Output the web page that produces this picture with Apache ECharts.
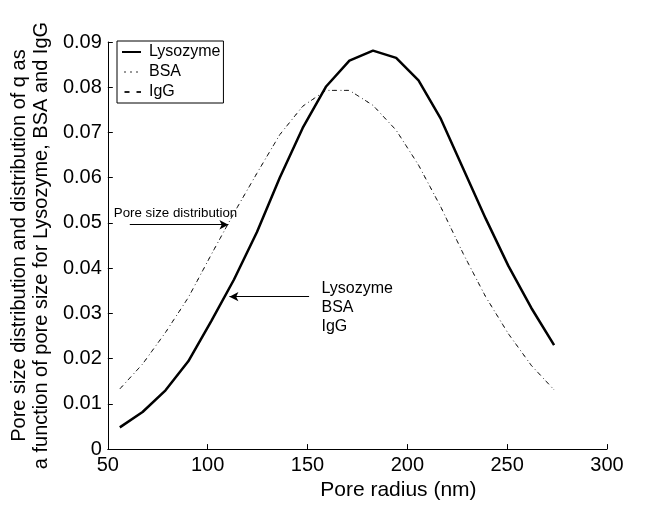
<!DOCTYPE html>
<html>
<head>
<meta charset="utf-8">
<script src="https://cdn.jsdelivr.net/npm/echarts@6/dist/echarts.min.js"></script>
<style>
html,body{margin:0;padding:0;background:#fff;}
#chart{width:650px;height:506px;}
</style>
</head>
<body>
<div id="chart"></div>
<script>
// Pore radius (nm)
const poreRadius = [56.0, 67.4, 78.9, 90.3, 101.8, 113.2, 124.7, 136.1, 147.6, 159.2,
                    171.0, 182.8, 194.4, 205.6, 216.8, 228.0, 239.2, 250.6, 262.1, 273.5];
// Lysozyme distribution of q (solid)
const lysozyme = [0.0048, 0.0082, 0.0130, 0.0194, 0.0283, 0.0375, 0.0480, 0.0600, 0.0710, 0.0801,
                  0.0859, 0.0881, 0.0865, 0.0815, 0.0730, 0.0620, 0.0510, 0.0405, 0.0312, 0.0230];
// Pore size distribution (BSA and IgG curves coincide with it)
const bsa = [0.0133, 0.0188, 0.0258, 0.0335, 0.0430, 0.0522, 0.0610, 0.0695, 0.0758, 0.0793,
             0.0793, 0.0760, 0.0705, 0.0628, 0.0535, 0.0432, 0.0337, 0.0255, 0.0185, 0.0131];
const igg = [0.0133, 0.0188, 0.0258, 0.0335, 0.0430, 0.0522, 0.0610, 0.0695, 0.0758, 0.0793,
             0.0793, 0.0760, 0.0705, 0.0628, 0.0535, 0.0432, 0.0337, 0.0255, 0.0185, 0.0131];
const seriesNames = ['Lysozyme', 'BSA', 'IgG'];
const xTicks = {min: 50, max: 300, interval: 50};
const yTicks = {min: 0, max: 0.09, interval: 0.01};
const xTitle = 'Pore radius (nm)';
const yTitle = 'Pore size distribution and distribution of q as\na function of pore size for Lysozyme, BSA and IgG';
// annotations (data coordinates)
const noteDistText = 'Pore size distribution';
const noteDistArrow = [[61, 0.0496], [110.4, 0.0496]];
const noteDistTextPos = [53, 0.0527];
const noteQText = 'Lysozyme\nBSA\nIgG';
const noteQArrow = [[150.8, 0.0337], [110.9, 0.0337]];
const noteQTextPos = [157, 0.0370];

const FONT = '"Liberation Sans", Arial, Helvetica, sans-serif';
const zip = (xs, ys) => xs.map((x, i) => [x, ys[i]]);

const chart = echarts.init(document.getElementById('chart'), null, {renderer: 'canvas'});
const arrowLine = (pts) => ({
  silent: true, symbol: ['none', 'arrow'], symbolSize: [7, 9],
  lineStyle: {color: '#000', width: 1, type: 'solid'},
  label: {show: false},
  data: [[{coord: pts[0]}, {coord: pts[1]}]]
});
chart.setOption({
  animation: false,
  backgroundColor: '#fff',
  textStyle: {fontFamily: FONT, color: '#000'},
  grid: {left: 106, right: 43, top: 42, bottom: 50},
  legend: {
    orient: 'vertical', left: 117, top: 41,
    data: seriesNames,
    backgroundColor: '#fff', borderColor: '#000', borderWidth: 1, borderRadius: 0,
    padding: [3, 3, 3, 4], itemGap: 4, itemWidth: 19, itemHeight: 16,
    itemStyle: {opacity: 0},
    textStyle: {fontFamily: FONT, fontSize: 16, color: '#000', padding: [0, 0, 0, 3]}
  },
  xAxis: {
    type: 'value', min: xTicks.min, max: xTicks.max, interval: xTicks.interval,
    name: xTitle, nameLocation: 'middle', nameGap: 28,
    nameTextStyle: {fontFamily: FONT, fontSize: 21, color: '#000', padding: [0, 0, 0, 82]},
    axisLine: {show: true, onZero: false, lineStyle: {color: '#000', width: 1}},
    axisTick: {show: true, inside: true, length: 5, lineStyle: {color: '#000'}},
    axisLabel: {fontFamily: FONT, fontSize: 20, color: '#000', margin: 6},
    splitLine: {show: false}
  },
  yAxis: {
    type: 'value', min: yTicks.min, max: yTicks.max, interval: yTicks.interval,
    name: yTitle, nameLocation: 'middle', nameGap: 52, nameRotate: 90,
    nameTextStyle: {fontFamily: FONT, fontSize: 20, color: '#000', lineHeight: 22},
    axisLine: {show: true, lineStyle: {color: '#000', width: 1}},
    axisTick: {show: true, inside: true, length: 5, lineStyle: {color: '#000'}},
    axisLabel: {fontFamily: FONT, fontSize: 20, color: '#000', margin: 6,
      formatter: v => (Math.round(v * 100) / 100).toString()},
    splitLine: {show: false}
  },
  series: [
    {name: 'Lysozyme', type: 'line', data: zip(poreRadius, lysozyme), symbol: 'none',
     lineStyle: {color: '#000', width: 2.5, type: 'solid'}, itemStyle: {color: '#000'}, z: 3},
    {name: 'BSA', type: 'line', data: zip(poreRadius, bsa), symbol: 'none',
     lineStyle: {color: '#333', width: 1, type: [1, 5], dashOffset: -2.5}, itemStyle: {color: '#333'},
     markLine: arrowLine(noteDistArrow), z: 2},
    {name: 'IgG', type: 'line', data: zip(poreRadius, igg), symbol: 'none',
     lineStyle: {color: '#222', width: 1, type: [5, 7]}, itemStyle: {color: '#222'},
     markLine: arrowLine(noteQArrow), z: 2}
  ]
});

function placeNotes() {
  const p1 = chart.convertToPixel({gridIndex: 0}, noteDistTextPos);
  const p2 = chart.convertToPixel({gridIndex: 0}, noteQTextPos);
  chart.setOption({
    graphic: [
      {type: 'text', left: p1[0], top: p1[1] - 4, silent: true,
       style: {text: noteDistText, font: '13.3px ' + FONT, fill: '#000'}},
      {type: 'text', left: p2[0], top: p2[1] - 3, silent: true,
       style: {text: noteQText, font: '16px ' + FONT, fill: '#000', lineHeight: 19}}
    ]
  });
}
placeNotes();
</script>
</body>
</html>
